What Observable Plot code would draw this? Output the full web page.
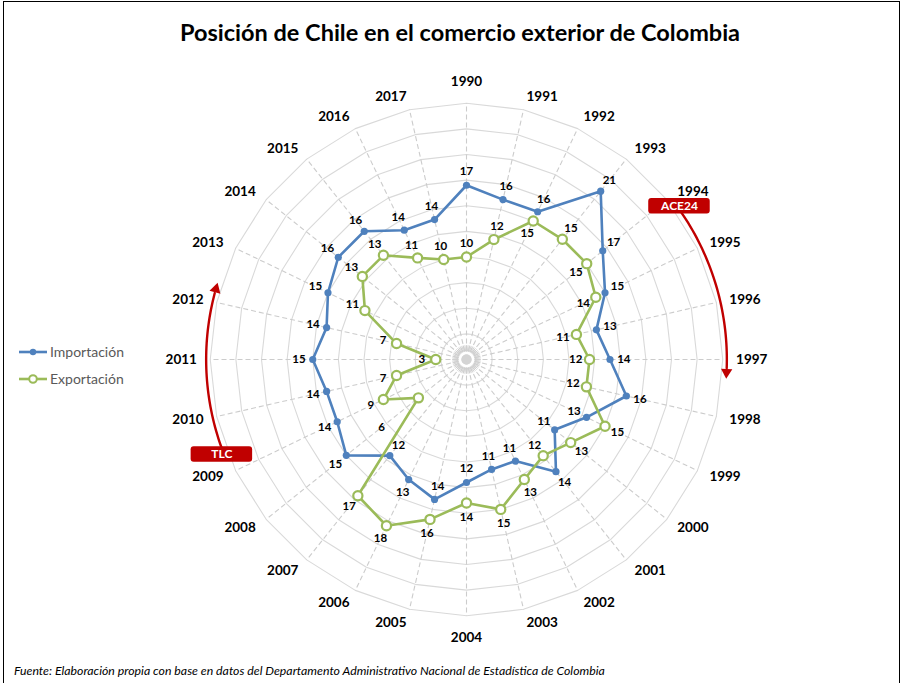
<!DOCTYPE html>
<html lang="es">
<head>
<meta charset="utf-8">
<script src="https://cdn.jsdelivr.net/npm/d3@7"></script>
<script src="https://cdn.jsdelivr.net/npm/@observablehq/plot@0.6"></script>
<style>
  html, body { margin: 0; padding: 0; background: #fff; }
  #frame { position: relative; width: 903px; height: 683px; overflow: hidden; font-family: Lato, "Open Sans", sans-serif; }
  #border { position: absolute; left: 3px; top: 1px; width: 897px; height: 700px; border: 1.5px solid #000; box-sizing: border-box; }
  #chart { position: absolute; left: 0; top: 0; }
  #title { position: absolute; left: 0; width: 920px; top: 18px; margin: 0; text-align: center; font-size: 23.5px; font-weight: 700; color: #000; }
  #legend { position: absolute; left: 18px; top: 338px; font-size: 14px; color: #595959; }
  #legend .item { display: flex; align-items: center; height: 27px; }
  #legend svg { margin-right: 2px; }
  #source { position: absolute; left: 14px; top: 663px; font-size: 12.3px; font-style: italic; color: #000; }
</style>
</head>
<body>
<div id="frame">
  <div id="border"></div>
  <div id="chart"></div>
  <h1 id="title">Posición de Chile en el comercio exterior de Colombia</h1>
  <div id="legend"></div>
  <div id="source">Fuente: Elaboración propia con base en datos del Departamento Administrativo Nacional de Estadística de Colombia</div>
</div>
<script>
// Years (categories around the radar, clockwise from the top)
const years = [1990, 1991, 1992, 1993, 1994, 1995, 1996, 1997, 1998, 1999,
               2000, 2001, 2002, 2003, 2004, 2005, 2006, 2007, 2008, 2009,
               2010, 2011, 2012, 2013, 2014, 2015, 2016, 2017];

// Chile's position among Colombia's partners
const importacion = [17, 16, 16, 21, 17, 15, 13, 14, 16, 13, 11, 14, 11, 11,
                     12, 14, 13, 12, 15, 14, 14, 15, 14, 15, 16, 16, 14, 14];
const exportacion = [10, 12, 15, 15, 15, 14, 11, 12, 12, 15, 13, 12, 13, 15,
                     14, 16, 18, 17, 6, 9, 7, 3, 7, 11, 13, 13, 11, 10];

// Radial gridlines
const ringValues = [2.5, 5, 7.5, 10, 12.5, 15, 17.5, 20, 22.5, 25];
const radialMax = 25;

// Trade agreements marked with arrows
const acuerdos = ["ACE24", "TLC"];
const acuerdoInicio = [1994, 2009];
const acuerdoFin = [1997, 2012];

const seriesNames = ["Importación", "Exportación"];
const colors = {"Importación": "#4f81bd", "Exportación": "#9bbb59"};
const red = "#c00000";

// ---- geometry helpers (value space, y pointing up) ----
const W = 903, H = 683, CX = 466, CY = 359, K = 10.25; // px per unit
const N = years.length;
const theta = t => t * 2 * Math.PI / N;           // t = category index (may be fractional)
const polar = (r, t) => ({x: r * Math.sin(theta(t)), y: r * Math.cos(theta(t))});

// Grid polygons
const ringPts = ringValues.flatMap(v =>
  d3.range(N + 1).map(i => ({ring: v, ...polar(v, i % N)})));
const spokes = years.map((yr, i) => ({...polar(radialMax, i)}));

// Hub decoration at the centre
const hubTicks = d3.range(2 * N).map(j => {
  const a = polar(0.8, j / 2), b = polar(1.4, j / 2);
  return {x1: a.x, y1: a.y, x2: b.x, y2: b.y};
});

// Series points
const series = [
  {name: "Importación", values: importacion},
  {name: "Exportación", values: exportacion}
];
const pts = series.flatMap(s => s.values.map((v, i) => ({serie: s.name, year: years[i], i, v, ...polar(v, i)})));
const loops = series.flatMap(s =>
  d3.range(N + 1).map(k => ({serie: s.name, ...polar(s.values[k % N], k % N)})));

// Value labels: placed radially outside the point, or inside for these years
const inward = {
  "Importación": new Set([1999, 2000, 2002, 2003, 2004, 2005, 2007]),
  "Exportación": new Set([1992, 1994, 1995, 1996, 1997, 1998, 2001])
};
const labelGap = {"Exportación-2008": 4.6};
const labels = pts.map(d => {
  const g = labelGap[`${d.serie}-${d.year}`] ?? 1.35;
  const r = inward[d.serie].has(d.year) ? d.v - g : d.v + g;
  return {...d, ...polar(r, d.i)};
});

// Year labels: anchored on the spoke, text running away from the centre
const yearR = 26.3;
const yearLabels = years.map((yr, i) => {
  const s = Math.sin(theta(i));
  const side = Math.abs(s) < 1e-6 ? "middle" : s > 0 ? "start" : "end";
  const p = polar(side === "middle" ? yearR + 0.85 : yearR, i);
  return {label: String(yr), side, ...p};
});

// Agreement arcs
const arcR = 25.4;
const arcs = acuerdos.flatMap((name, j) => {
  const t0 = years.indexOf(acuerdoInicio[j]) + 0.25;
  const t1 = years.indexOf(acuerdoFin[j]) + 0.15;
  return d3.range(0, 41).map(s => ({name, ...polar(arcR, t0 + (t1 - t0) * s / 40)}));
});
const arrowHeads = acuerdos.map((name, j) => {
  const t = years.indexOf(acuerdoFin[j]) + 0.22;
  return {name, ...polar(arcR, t), rotate: theta(t) * 180 / Math.PI + 90};
});
const boxes = acuerdos.map((name, j) => {
  const t = years.indexOf(acuerdoInicio[j]) + (j === 0 ? 0.22 : 0.35);
  const c = polar(25.6, t);
  return {name, x: c.x, y: c.y, x1: c.x - 3.0, x2: c.x + 3.0, y1: c.y - 0.75, y2: c.y + 0.75};
});

const yearText = side => Plot.text(yearLabels.filter(d => d.side === side),
  {x: "x", y: "y", text: "label", textAnchor: side, fontSize: 13.5, fontWeight: "bold", fill: "#000"});

const chart = Plot.plot({
  width: W,
  height: H,
  margin: 0,
  x: {domain: [-CX / K, (W - CX) / K], axis: null},
  y: {domain: [-(H - CY) / K, CY / K], axis: null},
  style: {fontFamily: "Lato, 'Open Sans', sans-serif", fontSize: "11px", background: "transparent"},
  marks: [
    // grid
    Plot.line(ringPts, {x: "x", y: "y", z: "ring", stroke: "#d9d9d9", strokeWidth: 1.1, curve: "linear"}),
    Plot.link(spokes, {x1: 0, y1: 0, x2: "x", y2: "y", stroke: "#cccccc", strokeWidth: 1.1, strokeDasharray: "5,3"}),
    Plot.link(hubTicks, {x1: "x1", y1: "y1", x2: "x2", y2: "y2", stroke: "#d0d0d0", strokeWidth: 1}),
    Plot.dot([{x: 0, y: 0}], {x: "x", y: "y", r: 5, fill: "#d4d4d4", stroke: null}),
    // year labels
    yearText("start"), yearText("end"), yearText("middle"),
    // series
    Plot.line(loops, {x: "x", y: "y", z: "serie", stroke: d => colors[d.serie], strokeWidth: 2.6, curve: "linear"}),
    Plot.dot(pts.filter(d => d.serie === "Importación"), {x: "x", y: "y", r: 3.6, fill: colors["Importación"], stroke: null}),
    Plot.dot(pts.filter(d => d.serie === "Exportación"), {x: "x", y: "y", r: 4.6, fill: "#fff", stroke: colors["Exportación"], strokeWidth: 2.2}),
    Plot.text(labels, {x: "x", y: "y", text: d => String(d.v), fontSize: 11.5, fontWeight: "bold", fill: "#000"}),
    // agreements
    Plot.line(arcs, {x: "x", y: "y", z: "name", stroke: red, strokeWidth: 2.4, curve: "linear"}),
    Plot.dot(arrowHeads, {x: "x", y: "y", symbol: "triangle", r: 4.2, fill: red, stroke: null, rotate: "rotate"}),
    Plot.rect(boxes, {x1: "x1", x2: "x2", y1: "y1", y2: "y2", fill: red, rx: 3}),
    Plot.text(boxes, {x: "x", y: "y", text: "name", fill: "#fff", fontSize: 12, fontWeight: "bold"})
  ]
});
document.getElementById("chart").appendChild(chart);

// Legend
const legend = d3.select("#legend");
seriesNames.forEach(name => {
  const item = legend.append("div").attr("class", "item");
  const svg = item.append("svg").attr("width", 30).attr("height", 12);
  svg.append("line").attr("x1", 1).attr("x2", 29).attr("y1", 6).attr("y2", 6)
    .attr("stroke", colors[name]).attr("stroke-width", 2.6);
  if (name === "Importación") {
    svg.append("circle").attr("cx", 15).attr("cy", 6).attr("r", 3.2).attr("fill", colors[name]);
  } else {
    svg.append("circle").attr("cx", 15).attr("cy", 6).attr("r", 3.8).attr("fill", "#fff")
      .attr("stroke", colors[name]).attr("stroke-width", 2);
  }
  item.append("span").text(name);
});
</script>
</body>
</html>
